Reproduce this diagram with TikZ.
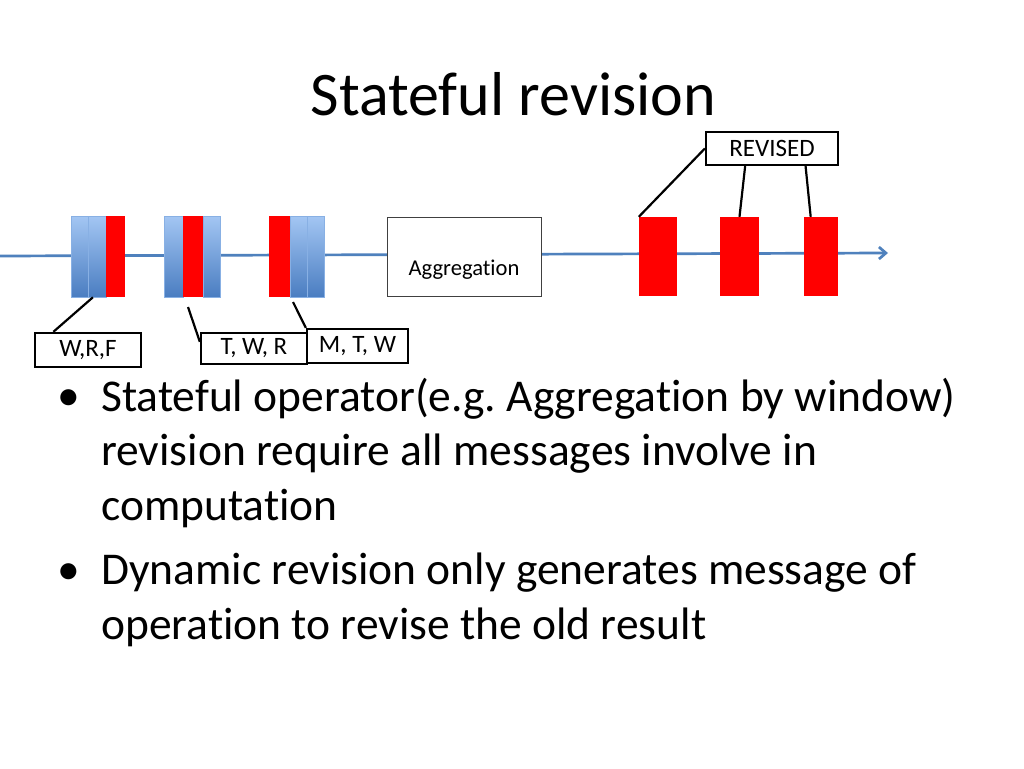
\documentclass[tikz,border=0pt]{standalone}
\usepackage{fontspec}
\setmainfont{Carlito}[Ligatures=NoCommon]
\frenchspacing
\usetikzlibrary{arrows.meta,calc}
\definecolor{flowblue}{HTML}{4F81BD}
\definecolor{barlight}{HTML}{A3C6F3}
\definecolor{bardark}{HTML}{4A7DC1}
\tikzset{
  bluebar/.style={rectangle, inner sep=0pt, minimum width=#1, minimum height=81pt,
    top color=barlight, bottom color=bardark, draw=barlight!70!bardark, line width=0.6pt},
  redbar/.style={rectangle, inner sep=0pt, minimum width=#1, minimum height=81pt, fill=red},
  tagbox/.style={draw, line width=2.3pt, inner sep=0pt, font=\fontsize{25}{30}\selectfont},
  pointer/.style={line width=2.2pt},
  bodytext/.style={anchor=base west, align=left, inner sep=0pt, font=\fontsize{45.5}{54.5}\selectfont},
}
\begin{document}
\begin{tikzpicture}[x=1pt, y=-1pt]
      \fill[white] (0,0) rectangle (1024,768);
      \useasboundingbox (0,0) rectangle (1024,768);
      \node[anchor=base, inner sep=0pt, font=\fontsize{62}{74}\selectfont] (title) at (513.5,115) {Stateful revision};
      % stream
      \coordinate (flowstart) at (0,256);
      \coordinate (flowend) at (888,253);
      \draw[flowblue, line width=2.7pt, -{Straight Barb[length=7pt,width=12pt]}] (flowstart) -- (flowend);
      \node[bluebar=17pt] (g1a) at (79.5,256.5) {};
      \node[bluebar=18pt] (g1b) at (97,256.5) {};
      \node[redbar=19pt] (g1c) at (115.5,256.5) {};
      \node[bluebar=19pt] (g2a) at (173.5,256.5) {};
      \node[redbar=20pt] (g2b) at (193,256.5) {};
      \node[bluebar=17pt] (g2c) at (211.5,256.5) {};
      \node[redbar=21pt] (g3a) at (279.5,256.5) {};
      \node[bluebar=17pt] (g3b) at (298.5,256.5) {};
      \node[bluebar=17pt] (g3c) at (315.5,256.5) {};
      \node[draw=black!75, fill=white, line width=1pt, minimum width=154pt, minimum height=79pt,
        inner sep=0pt, text height=37pt, text depth=0pt, font=\fontsize{22.6}{27}\selectfont] (agg) at (464,256.5) {Aggregation};
      \node[redbar=38pt, minimum height=79pt] (r1) at (658,256.5) {};
      \node[redbar=39pt, minimum height=79pt] (r2) at (739.5,256.5) {};
      \node[redbar=34pt, minimum height=79pt] (r3) at (821,256.5) {};
      % tags
      \node[tagbox, minimum width=132pt, minimum height=33pt] (rev) at (772,148.5) {REVISED};
      \node[tagbox, minimum width=106pt, minimum height=34pt] (wrf) at (88,350) {W,R,F};
      \node[tagbox, minimum width=106pt, minimum height=31pt] (twr) at (254,348.5) {T, W, R};
      \node[tagbox, minimum width=101pt, minimum height=34pt] (mtw) at (357.5,346) {M, T, W};
      \coordinate (twrtip) at (188,307);
      \coordinate (mtwtip) at (293,302);
      \draw[pointer] (rev.west) -- (r1.north west);
      \draw[pointer] ($(rev.south west)!0.3!(rev.south east)$) -- (r2.north);
      \draw[pointer] ($(rev.south west)!0.75!(rev.south east)$) -- ($(r3.north west)!0.2!(r3.north east)$);
      \draw[pointer] ($(g1b.south west)!0.28!(g1b.south east)$) -- ($(wrf.north west)!0.18!(wrf.north east)$);
      \draw[pointer] (twrtip) -- ($(twr.north west)!0.3!(twr.south west)$);
      \draw[pointer] (mtwtip) -- (mtw.north west);
      % bullets
      \node[anchor=base, inner sep=0pt, font=\fontsize{45.5}{54.5}\selectfont] (dot1) at (69,410) {\textbullet};
      \node[bodytext] (item1) at (101,520) {Stateful operator(e.g. Aggregation by window)\\revision require all messages involve in\\computation};
      \node[anchor=base, inner sep=0pt, font=\fontsize{45.5}{54.5}\selectfont] (dot2) at (69,584) {\textbullet};
      \node[bodytext] (item2) at (101,639) {Dynamic revision only generates message of\\operation to revise the old result};
    \end{tikzpicture}
\end{document}
